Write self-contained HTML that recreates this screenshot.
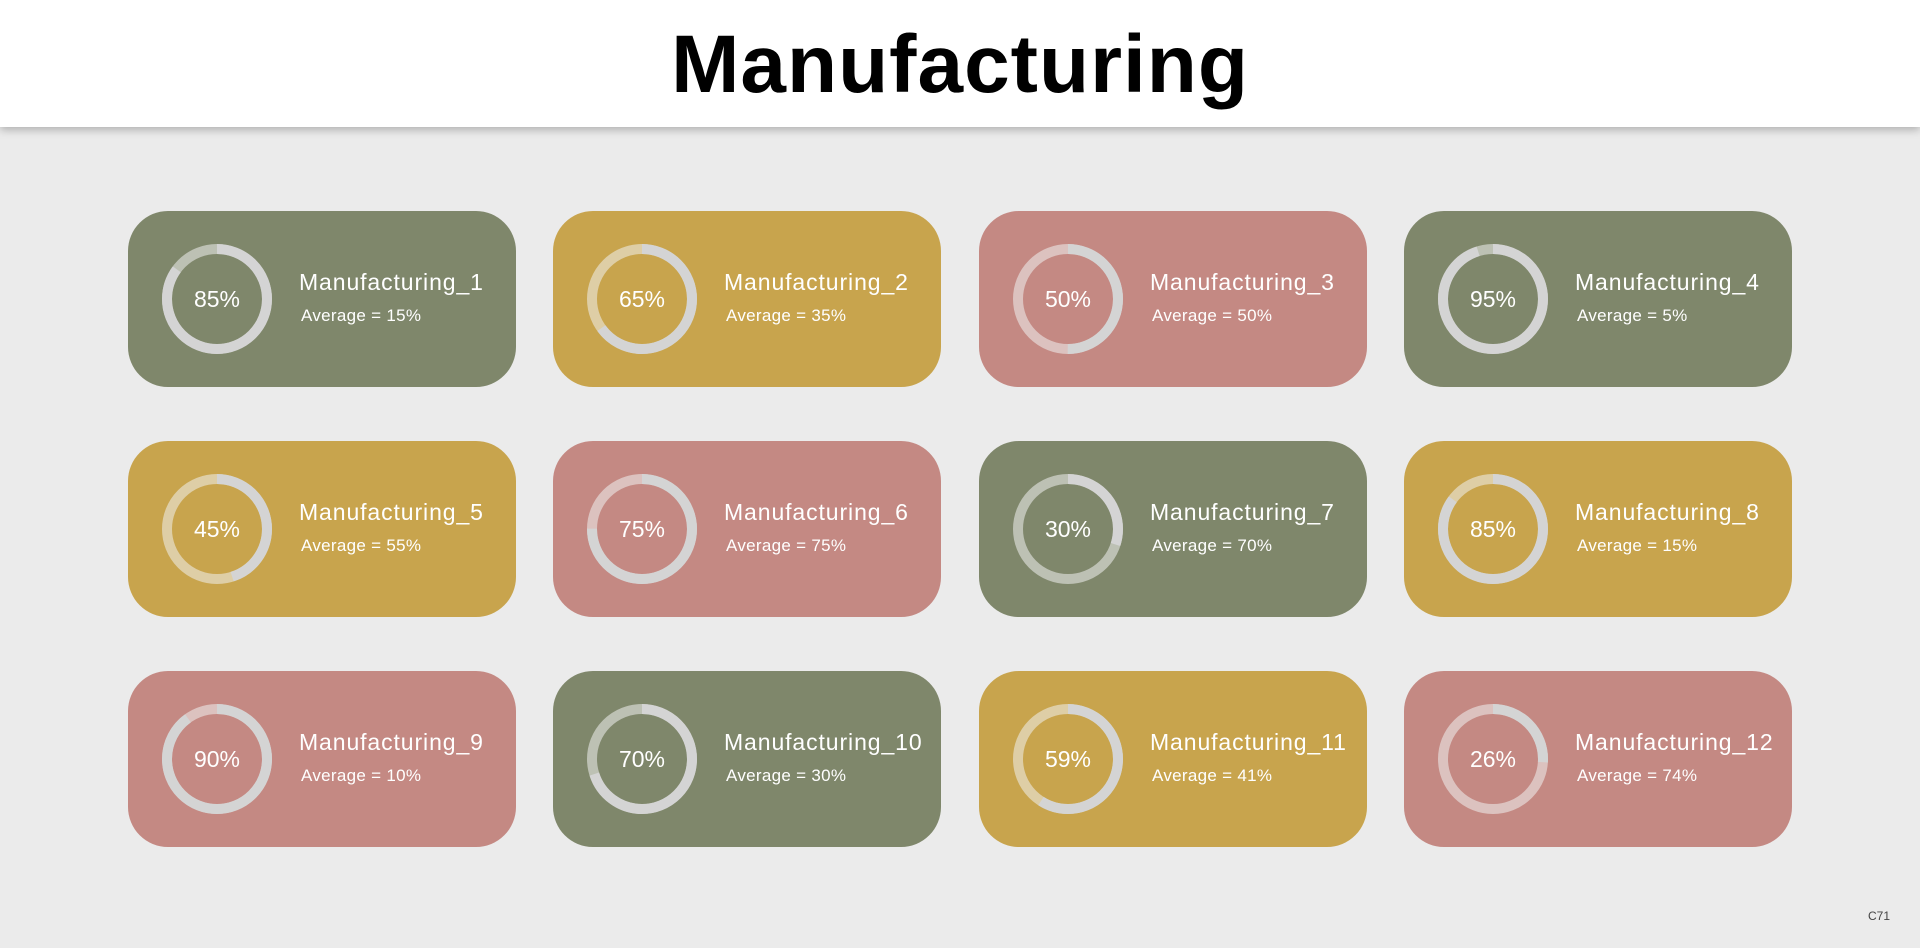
<!DOCTYPE html>
<html><head><meta charset="utf-8"><style>
body{margin:0;width:1920px;height:948px;background:#ebebeb;position:relative;overflow:hidden;font-family:"Liberation Sans",sans-serif}
.hdr{position:absolute;left:0;top:0;width:1920px;height:127px;background:#fff;box-shadow:0 3px 8px rgba(0,0,0,.25)}
.hdr h1{margin:0;position:absolute;left:0;width:100%;top:18px;text-align:center;font-size:82px;font-weight:bold;color:#000;letter-spacing:1px}
.c{position:absolute;width:388px;height:176px;border-radius:40px}
.g{background:#7f876b}.y{background:#c8a44d}.p{background:#c48983}
.c svg{position:absolute;left:0;top:0}
.n{position:absolute;left:171px;top:58px;font-size:23px;color:#fff;letter-spacing:.9px;white-space:nowrap}
.a{position:absolute;left:173px;top:95px;font-size:17px;color:#fff;letter-spacing:.3px;white-space:nowrap}
.v{position:absolute;left:39px;width:100px;top:75px;text-align:center;font-size:23px;color:#fff}
.ft{position:absolute;left:1868px;top:909px;font-size:12px;color:#444}
circle.b{fill:none;stroke:rgba(240,240,240,.55);stroke-width:10}
circle.f{fill:none;stroke:#d4d4d4;stroke-width:10}
</style></head><body>
<div class="hdr"><h1>Manufacturing</h1></div>

<div class="c g" style="left:128px;top:211px"><svg width="180" height="176"><circle class="b" cx="89" cy="88" r="50"/><circle class="f" cx="89" cy="88" r="50" stroke-dasharray="267.0 400" transform="rotate(-90 89 88)"/></svg><div class="v">85%</div><div class="n">Manufacturing_1</div><div class="a">Average = 15%</div></div>
<div class="c y" style="left:553px;top:211px"><svg width="180" height="176"><circle class="b" cx="89" cy="88" r="50"/><circle class="f" cx="89" cy="88" r="50" stroke-dasharray="204.2 400" transform="rotate(-90 89 88)"/></svg><div class="v">65%</div><div class="n">Manufacturing_2</div><div class="a">Average = 35%</div></div>
<div class="c p" style="left:979px;top:211px"><svg width="180" height="176"><circle class="b" cx="89" cy="88" r="50"/><circle class="f" cx="89" cy="88" r="50" stroke-dasharray="157.1 400" transform="rotate(-90 89 88)"/></svg><div class="v">50%</div><div class="n">Manufacturing_3</div><div class="a">Average = 50%</div></div>
<div class="c g" style="left:1404px;top:211px"><svg width="180" height="176"><circle class="b" cx="89" cy="88" r="50"/><circle class="f" cx="89" cy="88" r="50" stroke-dasharray="298.5 400" transform="rotate(-90 89 88)"/></svg><div class="v">95%</div><div class="n">Manufacturing_4</div><div class="a">Average = 5%</div></div>

<div class="c y" style="left:128px;top:441px"><svg width="180" height="176"><circle class="b" cx="89" cy="88" r="50"/><circle class="f" cx="89" cy="88" r="50" stroke-dasharray="141.4 400" transform="rotate(-90 89 88)"/></svg><div class="v">45%</div><div class="n">Manufacturing_5</div><div class="a">Average = 55%</div></div>
<div class="c p" style="left:553px;top:441px"><svg width="180" height="176"><circle class="b" cx="89" cy="88" r="50"/><circle class="f" cx="89" cy="88" r="50" stroke-dasharray="235.6 400" transform="rotate(-90 89 88)"/></svg><div class="v">75%</div><div class="n">Manufacturing_6</div><div class="a">Average = 75%</div></div>
<div class="c g" style="left:979px;top:441px"><svg width="180" height="176"><circle class="b" cx="89" cy="88" r="50"/><circle class="f" cx="89" cy="88" r="50" stroke-dasharray="94.2 400" transform="rotate(-90 89 88)"/></svg><div class="v">30%</div><div class="n">Manufacturing_7</div><div class="a">Average = 70%</div></div>
<div class="c y" style="left:1404px;top:441px"><svg width="180" height="176"><circle class="b" cx="89" cy="88" r="50"/><circle class="f" cx="89" cy="88" r="50" stroke-dasharray="267.0 400" transform="rotate(-90 89 88)"/></svg><div class="v">85%</div><div class="n">Manufacturing_8</div><div class="a">Average = 15%</div></div>

<div class="c p" style="left:128px;top:671px"><svg width="180" height="176"><circle class="b" cx="89" cy="88" r="50"/><circle class="f" cx="89" cy="88" r="50" stroke-dasharray="282.7 400" transform="rotate(-90 89 88)"/></svg><div class="v">90%</div><div class="n">Manufacturing_9</div><div class="a">Average = 10%</div></div>
<div class="c g" style="left:553px;top:671px"><svg width="180" height="176"><circle class="b" cx="89" cy="88" r="50"/><circle class="f" cx="89" cy="88" r="50" stroke-dasharray="219.9 400" transform="rotate(-90 89 88)"/></svg><div class="v">70%</div><div class="n">Manufacturing_10</div><div class="a">Average = 30%</div></div>
<div class="c y" style="left:979px;top:671px"><svg width="180" height="176"><circle class="b" cx="89" cy="88" r="50"/><circle class="f" cx="89" cy="88" r="50" stroke-dasharray="185.4 400" transform="rotate(-90 89 88)"/></svg><div class="v">59%</div><div class="n">Manufacturing_11</div><div class="a">Average = 41%</div></div>
<div class="c p" style="left:1404px;top:671px"><svg width="180" height="176"><circle class="b" cx="89" cy="88" r="50"/><circle class="f" cx="89" cy="88" r="50" stroke-dasharray="81.7 400" transform="rotate(-90 89 88)"/></svg><div class="v">26%</div><div class="n">Manufacturing_12</div><div class="a">Average = 74%</div></div>

<div class="ft">C71</div>
</body></html>
